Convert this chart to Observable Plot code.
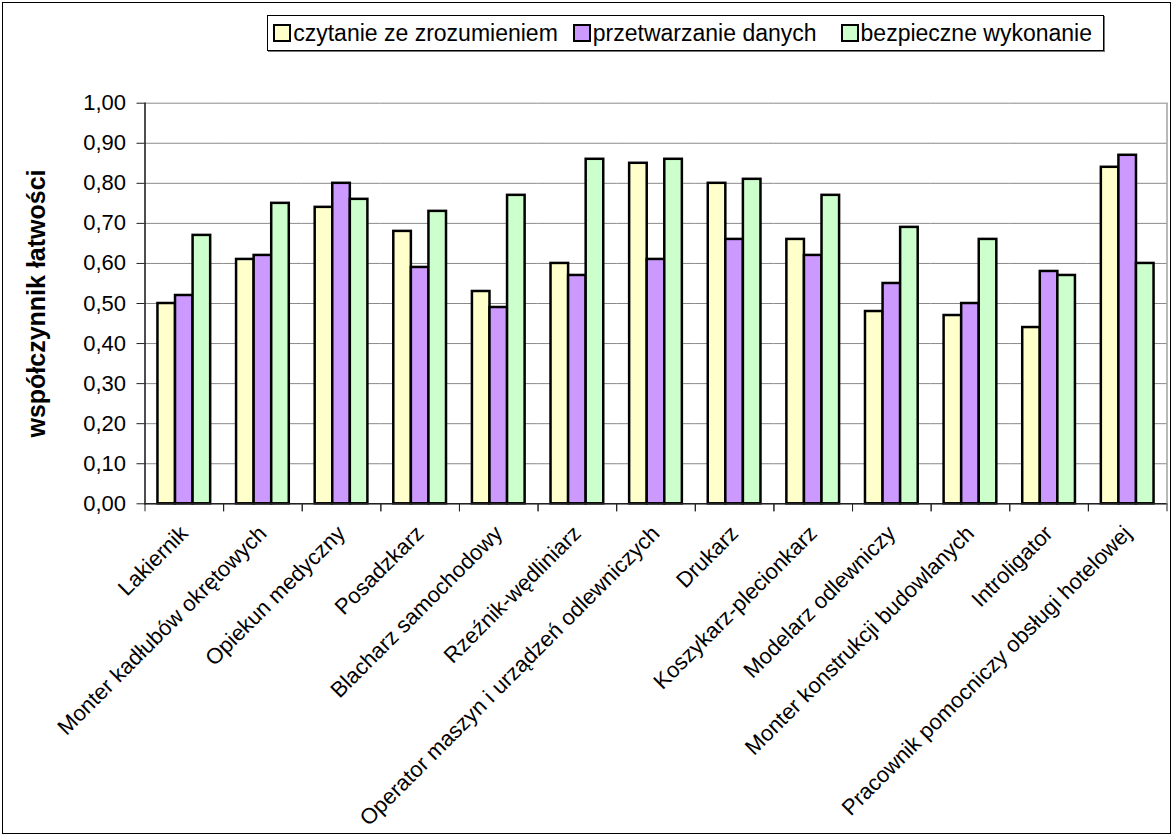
<!DOCTYPE html>
<html>
<head>
<meta charset="utf-8">
<script src="https://cdn.jsdelivr.net/npm/d3@7"></script>
<script src="https://cdn.jsdelivr.net/npm/@observablehq/plot@0.6"></script>
<style>
  html, body { margin: 0; padding: 0; background: #fff; }
  #page { position: relative; width: 1173px; height: 836px; overflow: hidden; font-family: "Liberation Sans", Arial, sans-serif; }
  #outer { position: absolute; left: 2px; top: 2px; width: 1167px; height: 830px; border: 1px solid #000; }
  #legend { position: absolute; top: 15px; right: 69px; height: 34px; border: 1px solid #000; box-shadow: 1px 1px 0 #777;
            display: flex; align-items: center; padding: 0 11px 0 5px; background: #fff; font-size: 23px; color: #000; white-space: nowrap; }
  #legend .item { display: flex; align-items: center; }
  #legend .item:nth-child(2) { margin-left: 15px; }
  #legend .item:nth-child(3) { margin-left: 24px; }
  #legend .sw { width: 14px; height: 14px; border: 2px solid #000; margin-right: 2px; }
  #chart { position: absolute; left: 0; top: 56px; }
</style>
</head>
<body>
<div id="page">
  <div id="outer"></div>
  <div id="legend"></div>
  <div id="chart"></div>
</div>
<script>
// ---- data ----
const categories = [
  "Lakiernik",
  "Monter kadłubów okrętowych",
  "Opiekun medyczny",
  "Posadzkarz",
  "Blacharz samochodowy",
  "Rzeźnik-wędliniarz",
  "Operator maszyn i urządzeń odlewniczych",
  "Drukarz",
  "Koszykarz-plecionkarz",
  "Modelarz odlewniczy",
  "Monter konstrukcji budowlanych",
  "Introligator",
  "Pracownik pomocniczy obsługi hotelowej"
];
const seriesNames = ["czytanie ze zrozumieniem", "przetwarzanie danych", "bezpieczne wykonanie"];
const czytanie      = [0.50, 0.61, 0.74, 0.68, 0.53, 0.60, 0.85, 0.80, 0.66, 0.48, 0.47, 0.44, 0.84];
const przetwarzanie = [0.52, 0.62, 0.80, 0.59, 0.49, 0.57, 0.61, 0.66, 0.62, 0.55, 0.50, 0.58, 0.87];
const bezpieczne    = [0.67, 0.75, 0.76, 0.73, 0.77, 0.86, 0.86, 0.81, 0.77, 0.69, 0.66, 0.57, 0.60];
const seriesColors = ["#FFFFCC", "#CC99FF", "#CCFFCC"];
const yTicks = [0, 0.1, 0.2, 0.3, 0.4, 0.5, 0.6, 0.7, 0.8, 0.9, 1.0];
const yLabel = "współczynnik łatwości";

const seriesValues = [czytanie, przetwarzanie, bezpieczne];
const data = categories.flatMap((c, i) =>
  seriesNames.map((s, j) => ({category: c, series: s, value: seriesValues[j][i]}))
);

// ---- legend (HTML, above the svg) ----
const legend = document.getElementById("legend");
seriesNames.forEach((s, j) => {
  const item = document.createElement("div");
  item.className = "item";
  const sw = document.createElement("div");
  sw.className = "sw";
  sw.style.background = seriesColors[j];
  const t = document.createElement("span");
  t.textContent = s;
  item.appendChild(sw);
  item.appendChild(t);
  legend.appendChild(item);
});

// ---- chart ----
const W = 1173, H = 780;
const mL = 144.5, mR = 6.5, mT = 46.7, mB = 332.7;
const step = (W - mL - mR) / categories.length;
const fmt = d => d.toFixed(2).replace(".", ",");

const chart = Plot.plot({
  width: W, height: H,
  marginLeft: mL, marginRight: mR, marginTop: mT, marginBottom: mB,
  style: {fontFamily: '"Liberation Sans", Arial, sans-serif', fontSize: "22px", color: "#000", background: "transparent", overflow: "visible"},
  fx: {domain: categories, padding: 0, round: false, label: null},
  x: {domain: seriesNames, paddingInner: 0, paddingOuter: 0.737, round: false, axis: null},
  y: {domain: [0, 1], label: null},
  color: {domain: seriesNames, range: seriesColors},
  marks: [
    Plot.gridY(yTicks, {stroke: "#8a8a8a", strokeOpacity: 1, strokeWidth: 1}),
    Plot.barY(data, {fx: "category", x: "series", y: "value", fill: "series", stroke: "#000", strokeWidth: 2.5}),
    Plot.ruleY([0], {stroke: "#222", strokeWidth: 1.6}),
    Plot.frame({anchor: "left", facetAnchor: "left", stroke: "#222", strokeWidth: 1.6}),
    Plot.frame({anchor: "right", facetAnchor: "right", stroke: "#8a8a8a", strokeWidth: 1.2}),
    Plot.axisY(yTicks, {tickSize: 8, tickPadding: 11, tickFormat: fmt, fontSize: 22, label: null, stroke: "#222"}),
    Plot.axisY({ticks: [], label: yLabel, labelAnchor: "center", labelOffset: 118, fontSize: 25, fontWeight: "bold", labelArrow: false}),
    Plot.axisFx({anchor: "bottom", tickSize: 0, tickPadding: 26, tickRotate: -45, fontSize: 22, label: null, textOverflow: null, lineWidth: Infinity}),
    Plot.axisFx({anchor: "bottom", tickSize: 8, tickFormat: () => "", dx: step / 2, label: null, stroke: "#222"}),
    Plot.axisFx({anchor: "bottom", tickSize: 8, tickFormat: () => "", dx: -step / 2, label: null, stroke: "#222"})
  ]
});
document.getElementById("chart").appendChild(chart);
</script>
</body>
</html>
